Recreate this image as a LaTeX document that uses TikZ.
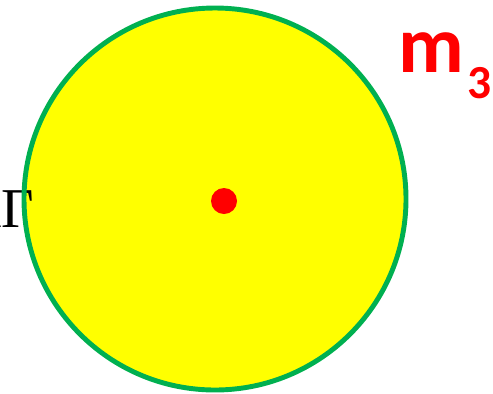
\documentclass[tikz,border=0pt]{standalone}
\usepackage{fontspec}
\newfontfamily\labelfont{Carlito}
\newfontfamily\sidefont{Liberation Serif}
\usetikzlibrary{positioning}
\definecolor{myyellow}{HTML}{FFFF00}
\definecolor{mygreen}{HTML}{00B050}
\definecolor{myred}{HTML}{FF0000}
\tikzset{
	ballfill/.style={fill=myyellow, circle, inner sep=0pt}
}
\tikzset{
	ballrim/.style={draw=mygreen, line width=2.8pt}
}
\tikzset{
	masstext/.style={font=\labelfont\bfseries\fontsize{46}{46}\selectfont, text=myred, inner sep=0pt}
}
\tikzset{
	sidetext/.style={font=\sidefont\fontsize{32}{32}\selectfont, inner sep=0pt}
}
\begin{document}
\begin{tikzpicture}[x=0.02cm, y=-0.02cm]

			\useasboundingbox (0,0) rectangle (493,393);

			\node[ballfill, minimum size=7.64cm] (ball) at (215,199) {};
			\fill[myred] (224,201) circle (13);
			\coordinate (centre) at (224,201);

			\node[sidetext, anchor=base east] (side) at (34,227) {КГ};

			\draw[ballrim] (ball.center) circle (191);

			\node[masstext, anchor=base west] (mass) at (398,72) {m\hspace{2pt}\raisebox{-14.8pt}{\fontsize{27}{27}\selectfont 3}};

		\end{tikzpicture}
\end{document}
